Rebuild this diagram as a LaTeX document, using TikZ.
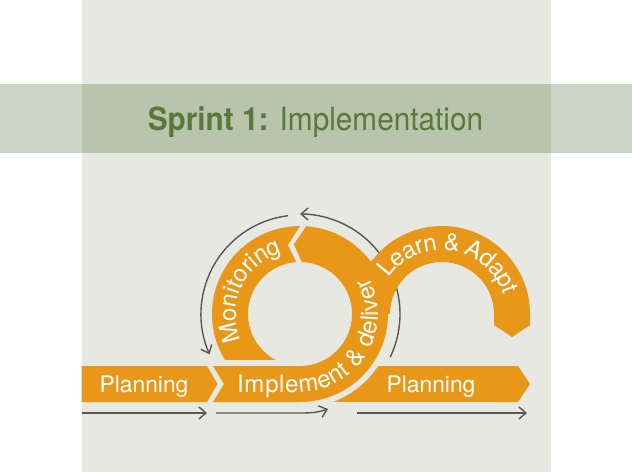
\documentclass[tikz,border=0pt]{standalone}
\usepackage{fontspec}
\setmainfont{TeX Gyre Heros}
\usetikzlibrary{arrows.meta,decorations.text,calc}
\definecolor{panel}{HTML}{E6E8E1}
\definecolor{bandout}{HTML}{CBD4C4}
\definecolor{bandin}{HTML}{B8C4AB}
\definecolor{titlegreen}{HTML}{5A783C}
\definecolor{orng}{HTML}{E99719}
\definecolor{arrowgray}{HTML}{555858}
\newcommand{\labelfont}{\fontsize{22.8}{27}\selectfont}
\newcommand{\curvefont}{\fontsize{24}{28}\selectfont}
\tikzset{
  piece/.style={fill=orng, draw=none},
  flowarrow/.style={draw=arrowgray, line width=1.4pt, -{Straight Barb[length=7pt,width=12pt]}},
  lbl/.style={text=white, font=\labelfont, inner sep=0pt, anchor=base},
  curvetext/.style={decorate, decoration={text effects along path, text={#1},
     text effects/.cd, text along path, fit text to path,
     characters={text=white, font=\curvefont, inner sep=0pt}}}
}
\begin{document}
\begin{tikzpicture}[x=1pt,y=1pt]
\useasboundingbox (0,0) rectangle (632,472);
\fill[white] (0,0) rectangle (632,472);
\fill[panel] (81.5,0) rectangle (551,472);
\fill[bandout] (0,319) rectangle (632,388);
\fill[bandin] (81.5,319) rectangle (551,388);
\node[anchor=base, text=titlegreen, inner sep=0pt] (title) at (315.5,341)
  {\scalebox{0.93}[1]{\fontsize{32}{38}\selectfont\textbf{Sprint 1:} Implementation}};

\coordinate (C1) at (300,158);
\coordinate (C2) at (442,158);

% grey flow arrows
\coordinate (lA) at ($(C1)+(97:99pt)$);
\coordinate (rA) at ($(C1)+(-25.5:100pt)$);
\draw[flowarrow] (lA) arc[start angle=97, end angle=204, radius=99pt];
\draw[flowarrow] (rA) arc[start angle=-25.5, end angle=90, radius=100pt];
\coordinate (b1s) at (82,59);  \coordinate (b1e) at (207,59);
\coordinate (b2s) at (216,59); \coordinate (b2m) at (303,59); \coordinate (b2e) at (328,63);
\coordinate (b3s) at (357,59); \coordinate (b3e) at (527,59);
\draw[flowarrow] (b1s) -- (b1e);
\draw[flowarrow] (b2s) -- (b2m) .. controls (316,59) and (322,61) .. (b2e);
\draw[flowarrow] (b3s) -- (b3e);

% orange pieces
\fill[piece] (81.5,70) -- (207,70) -- (217.5,88) -- (207,106) -- (81.5,106) -- cycle;
\fill[piece] ($(C1)+(-69.4:94pt)$) -- (518,70) -- (530,88) -- (518,106)
  -- ($(C1)+(-33.6:94pt)$) arc[start angle=-33.6, end angle=-69.4, radius=94pt] -- cycle;
\fill[piece] ($(C2)+(180:88pt)$) arc[start angle=180, end angle=0, radius=88pt]
  -- (530,147) -- (512,135) -- (494,147) -- (494,158)
  arc[start angle=0, end angle=180, radius=52pt] -- cycle;
\fill[piece] (213,106) -- (224,88) -- (213,70) -- (300,70)
  arc[start angle=-90, end angle=86, radius=88pt]
  -- ($(C1)+(95:70pt)$) -- ($(C1)+(88:52pt)$)
  arc[start angle=88, end angle=-90, radius=52pt] -- cycle;
\fill[piece] ($(C1)+(90:88pt)$) arc[start angle=90, end angle=211.5, radius=88pt]
  -- ($(C1)+(242.2:52pt)$) arc[start angle=242.2, end angle=94, radius=52pt]
  -- ($(C1)+(100:70pt)$) -- cycle;

% labels
\node[lbl] (p1) at (144,80) {Planning};
\node[lbl] (p2) at (431,80) {Planning};
\path[curvetext={Implement {\&} deliver}] (237,80) -- (300,80) arc[start angle=-90, end angle=28, radius=78pt];
\path[curvetext={Monitoring}] ($(C1)+(204:64pt)$) arc[start angle=204, end angle=106, radius=64pt];
\path[curvetext={Learn {\&} Adapt}] ($(C2)+(146:64pt)$) arc[start angle=146, end angle=17, radius=64pt];
\end{tikzpicture}
\end{document}
